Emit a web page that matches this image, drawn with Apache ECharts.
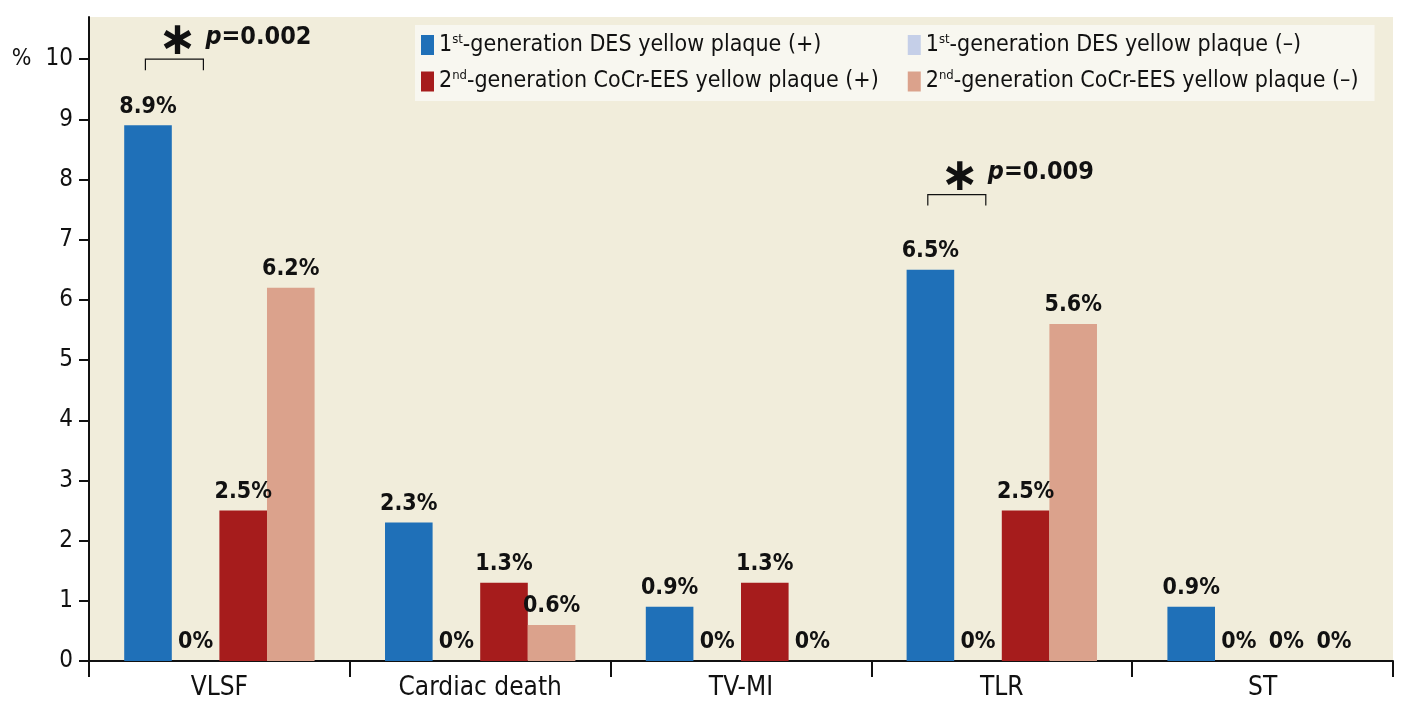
<!DOCTYPE html>
<html><head><meta charset="utf-8">
<script src="https://cdn.jsdelivr.net/npm/echarts@6/dist/echarts.min.js"></script>
<style>html,body{margin:0;padding:0;background:#fff}#c{width:1415px;height:721px}</style>
</head><body><div id="c"></div>
<script>
var categories = ['VLSF', 'Cardiac death', 'TV-MI', 'TLR', 'ST'];
var gen1Pos = [8.9, 2.3, 0.9, 6.5, 0.9];
var gen1Neg = [0, 0, 0, 0, 0];
var gen2Pos = [2.5, 1.3, 1.3, 2.5, 0];
var gen2Neg = [6.2, 0.6, 0, 5.6, 0];
var yTicks = [0,1,2,3,4,5,6,7,8,9,10];
var seriesNames = ['1st-generation DES yellow plaque (+)', '1st-generation DES yellow plaque (\u2013)', '2nd-generation CoCr-EES yellow plaque (+)', '2nd-generation CoCr-EES yellow plaque (\u2013)'];
var pvals = [{cat: 0, y: 10, text: '0.002'}, {cat: 3, y: 7.75, text: '0.009'}];

var FONT = '"DejaVu Sans Condensed","Liberation Sans Narrow",sans-serif';
var colors = ['#1f70b8', '#c5cfe8', '#a61c1c', '#dba28c'];
var chart = echarts.init(document.getElementById('c'));

function mkSeries(name, data, color) {
  return {
    name: name, type: 'bar', data: data, barGap: '0%', barCategoryGap: '27%',
    itemStyle: {color: color},
    label: {show: true, position: 'top', distance: 7, formatter: function(p){return p.value + '%';},
      fontFamily: FONT, fontWeight: 'bold', fontSize: 23, color: '#111'}
  };
}
function legendFmt(name) {
  var m = name.match(/^(\d)(st|nd)(.*)$/);
  return '{n|' + m[1] + '}{s|' + m[2] + '}{t|' + m[3] + '}';
}
var rich = {
  n: {fontFamily: FONT, fontSize: 23, color: '#111', lineHeight: 24},
  s: {fontFamily: FONT, fontSize: 13, color: '#111', verticalAlign: 'top', lineHeight: 24, padding: [0,0,10,0]},
  t: {fontFamily: FONT, fontSize: 23, color: '#111', lineHeight: 24, padding: [0, 16, 0, 0]}
};

chart.setOption({
  animation: false,
  grid: {left: 89, right: 22, top: 17, bottom: 60, show: true, backgroundColor: '#f1eddb', borderWidth: 0},
  legend: {
    orient: 'vertical', left: 415, top: 25, height: 90,
    data: [seriesNames[0], seriesNames[2], seriesNames[1], seriesNames[3]],
    itemWidth: 13, itemHeight: 20, itemGap: 13,
    backgroundColor: '#f8f7f0', padding: [8, 0, 8, 6],
    icon: 'rect', formatter: legendFmt,
    textStyle: {rich: rich, fontFamily: FONT, fontSize: 23, color: '#111'}
  },
  xAxis: {
    type: 'category', data: categories,
    axisLine: {lineStyle: {color: '#111', width: 2}},
    axisTick: {show: true, interval: 0, length: 16, lineStyle: {color: '#111', width: 2}},
    axisLabel: {fontFamily: FONT, fontSize: 26, color: '#111', margin: 14}
  },
  yAxis: {
    type: 'value', min: 0, max: 10.7, interval: 1,
    splitLine: {show: false},
    axisLine: {show: true, lineStyle: {color: '#111', width: 2}},
    axisTick: {show: true, length: 10, lineStyle: {color: '#111', width: 2}, customValues: yTicks},
    axisLabel: {fontFamily: FONT, fontSize: 24, color: '#111', margin: 16, customValues: yTicks,
      formatter: function(v){ return v === 10 ? '{p|%}10' : String(v); },
      rich: {p: {fontFamily: FONT, fontSize: 23, color: '#111', padding: [0, 14, 0, 0]}}}
  },
  series: [
    mkSeries(seriesNames[0], gen1Pos, colors[0]),
    mkSeries(seriesNames[1], gen1Neg, colors[1]),
    mkSeries(seriesNames[2], gen2Pos, colors[2]),
    mkSeries(seriesNames[3], gen2Neg, colors[3])
  ]
});

var g = [];
pvals.forEach(function(pv){
  var c = chart.convertToPixel({xAxisIndex: 0, yAxisIndex: 0}, [pv.cat, pv.y]);
  var x0 = c[0] - 74, x1 = c[0] - 16, y = c[1];
  g.push({type: 'polyline', shape: {points: [[x0, y + 11], [x0, y], [x1, y], [x1, y + 11]]}, style: {stroke: '#111', lineWidth: 1.2, fill: null}});
  g.push({type: 'text', x: c[0] - 42, y: y - 17, style: {text: '\u2217', font: 'bold 46px "DejaVu Sans"', fill: '#111', align: 'center', verticalAlign: 'middle'}});
  g.push({type: 'text', x: x1 + 2, y: y - 22, style: {
    text: '{p|p}{v|=' + pv.text + '}', align: 'left', verticalAlign: 'middle',
    rich: {p: {fontFamily: FONT, fontStyle: 'italic', fontWeight: 'bold', fontSize: 25, fill: '#111'},
           v: {fontFamily: FONT, fontWeight: 'bold', fontSize: 25, fill: '#111'}}}});
});
chart.setOption({graphic: g});
</script></body></html>
